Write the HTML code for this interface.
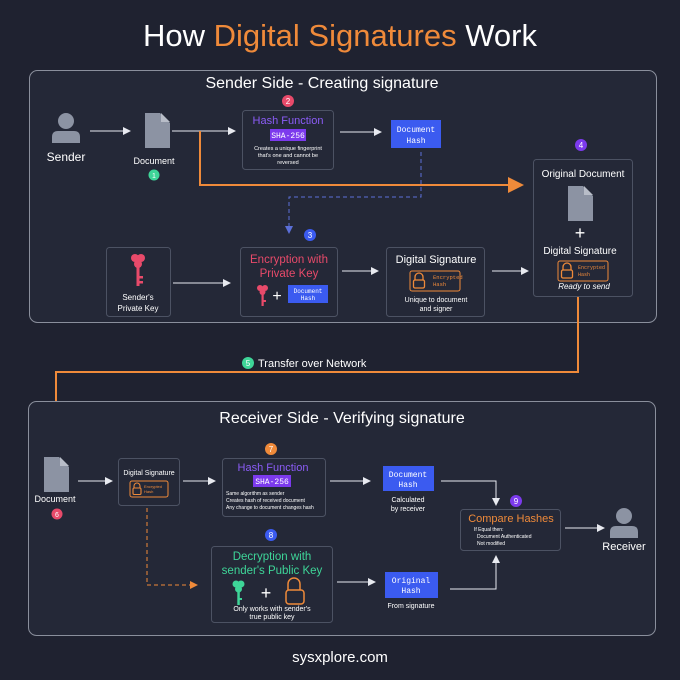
<!DOCTYPE html>
<html><head><meta charset="utf-8"><style>
html,body{margin:0;padding:0;background:#1f2230;}
svg{display:block;font-family:"Liberation Sans",sans-serif;}
.m{font-family:"Liberation Mono",monospace;}
</style></head><body>
<svg width="680" height="680" viewBox="0 0 680 680" xmlns="http://www.w3.org/2000/svg">
<defs>
<marker id="aw" markerWidth="8" markerHeight="8" refX="7" refY="4" orient="auto" markerUnits="userSpaceOnUse"><path d="M0,0 L8,4 L0,8z" fill="#e8eaf0"/></marker>
<marker id="ao" markerWidth="16" markerHeight="16" refX="14" refY="8" orient="auto" markerUnits="userSpaceOnUse"><path d="M0,0 L16,8 L0,16z" fill="#ef8a3a"/></marker>
<marker id="ao2" markerWidth="8" markerHeight="8" refX="7" refY="4" orient="auto" markerUnits="userSpaceOnUse"><path d="M0,0 L8,4 L0,8z" fill="#ef8a3a"/></marker>
<marker id="ab" markerWidth="8" markerHeight="8" refX="7" refY="4" orient="auto" markerUnits="userSpaceOnUse"><path d="M0,0 L8,4 L0,8z" fill="#5b6fd8"/></marker>
<g id="doc"><path d="M0,0 H15 L25,10 V35 H0Z" fill="#8c93a3"/><path d="M16,0 L25,9 H16Z" fill="#b8bdc8"/></g>
<g id="person"><circle cx="0" cy="8" r="8" fill="#8c93a3"/><path d="M-14,30 V24 Q-14,18 -8,18 H8 Q14,18 14,24 V30Z" fill="#8c93a3"/></g>
<g id="lock"><rect x="0" y="0" width="50" height="20" rx="2" fill="none" stroke="#ef8a3a" stroke-width="1"/><path d="M5,9 V6 a4,4 0 0 1 8,0 V9" fill="none" stroke="#ef8a3a" stroke-width="1.3"/><rect x="3.5" y="9" width="11" height="8" rx="1.5" fill="none" stroke="#ef8a3a" stroke-width="1.3"/></g>
<g id="lock2"><rect x="0" y="0" width="38" height="16" rx="2" fill="none" stroke="#ef8a3a" stroke-width="1"/><path d="M4,7 V5 a3,3 0 0 1 6,0 V7" fill="none" stroke="#ef8a3a" stroke-width="1.1"/><rect x="3" y="7" width="8" height="6.5" rx="1.2" fill="none" stroke="#ef8a3a" stroke-width="1.1"/></g>
</defs>
<rect width="680" height="680" fill="#1f2230"/>
<text x="340" y="46" text-anchor="middle" font-size="31" fill="#fff">How <tspan fill="#ef8a3a">Digital Signatures</tspan> Work</text>

<rect x="29.5" y="70.5" width="627" height="252" rx="8" fill="#242837" stroke="#8a8f9c"/>
<text x="322" y="88" text-anchor="middle" font-size="16" fill="#fff">Sender Side - Creating signature</text>
<use href="#person" x="66" y="113"/>
<text x="66" y="161" text-anchor="middle" font-size="12" fill="#fff">Sender</text>
<use href="#doc" x="145" y="113"/>
<text x="154" y="164" text-anchor="middle" font-size="9" fill="#fff">Document</text>
<circle cx="154" cy="175" r="5.5" fill="#3ed598"/><text x="154" y="178" text-anchor="middle" font-size="7" fill="#fff">1</text>
<line x1="90" y1="131" x2="130" y2="131" stroke="#e8eaf0" marker-end="url(#aw)"/>
<line x1="172" y1="131" x2="235" y2="131" stroke="#e8eaf0" marker-end="url(#aw)"/>
<circle cx="288" cy="101" r="6" fill="#e84a6a"/><text x="288" y="104" text-anchor="middle" font-size="8" fill="#fff">2</text>
<rect x="242.5" y="110.5" width="91" height="59" rx="3" fill="#242837" stroke="#4c5263"/>
<text x="288" y="124" text-anchor="middle" font-size="11" fill="#8b5cf6">Hash Function</text>
<rect x="270" y="129" width="36" height="12" fill="#7c3aed"/><text x="288" y="138" text-anchor="middle" font-size="8" class="m" fill="#fff">SHA-256</text>
<text x="288" y="150" text-anchor="middle" font-size="5.5" fill="#fff">Creates a unique fingerprint</text>
<text x="288" y="157" text-anchor="middle" font-size="5.5" fill="#fff">that's one and cannot be</text>
<text x="288" y="164" text-anchor="middle" font-size="5.5" fill="#fff">reversed</text>
<line x1="340" y1="132" x2="381" y2="132" stroke="#e8eaf0" marker-end="url(#aw)"/>
<rect x="391" y="120" width="50" height="28" fill="#3b5bf0"/>
<text x="416" y="132" text-anchor="middle" font-size="8" class="m" fill="#fff">Document</text>
<text x="416" y="143" text-anchor="middle" font-size="8" class="m" fill="#fff">Hash</text>
<path d="M421,152 V197 H289 V233" fill="none" stroke="#5b6fd8" stroke-dasharray="4,3" marker-end="url(#ab)"/>
<path d="M200,131 V185 H522" fill="none" stroke="#ef8a3a" stroke-width="2" marker-end="url(#ao)"/>
<circle cx="310" cy="235" r="6" fill="#3b5bf0"/><text x="310" y="238" text-anchor="middle" font-size="8" fill="#fff">3</text>
<circle cx="581" cy="145" r="6" fill="#7c3aed"/><text x="581" y="148" text-anchor="middle" font-size="8" fill="#fff">4</text>

<rect x="106.5" y="247.5" width="64" height="69" rx="3" fill="#242837" stroke="#4c5263"/>
<g fill="#e84a6a"><circle cx="135" cy="258" r="4"/><circle cx="141" cy="258" r="4"/><circle cx="138" cy="264" r="4"/><rect x="136.5" y="266" width="3" height="20"/><rect x="139" y="276" width="4" height="2.5"/><rect x="139" y="281" width="4" height="2.5"/></g>
<text x="138" y="300" text-anchor="middle" font-size="8" fill="#fff">Sender's</text>
<text x="138" y="311" text-anchor="middle" font-size="8" fill="#fff">Private Key</text>
<line x1="173" y1="283" x2="230" y2="283" stroke="#e8eaf0" marker-end="url(#aw)"/>
<rect x="240.5" y="247.5" width="97" height="69" rx="3" fill="#242837" stroke="#4c5263"/>
<text x="289" y="263" text-anchor="middle" font-size="11.5" fill="#e84a6a">Encryption with</text>
<text x="289" y="277" text-anchor="middle" font-size="11.5" fill="#e84a6a">Private Key</text>
<g fill="#e84a6a"><circle cx="260" cy="288" r="3"/><circle cx="265" cy="288" r="3"/><circle cx="262.5" cy="292" r="3"/><rect x="261.5" y="294" width="2.2" height="12"/><rect x="263" y="300" width="3" height="2"/></g>
<text x="277" y="301" text-anchor="middle" font-size="16" fill="#fff">+</text>
<rect x="288" y="285" width="40" height="18" fill="#3b5bf0"/>
<text x="308" y="293" text-anchor="middle" font-size="6" class="m" fill="#fff">Document</text>
<text x="308" y="300" text-anchor="middle" font-size="6" class="m" fill="#fff">Hash</text>
<line x1="342" y1="271" x2="378" y2="271" stroke="#e8eaf0" marker-end="url(#aw)"/>
<rect x="386.5" y="247.5" width="98" height="69" rx="3" fill="#242837" stroke="#4c5263"/>
<text x="436" y="263" text-anchor="middle" font-size="11" fill="#fff">Digital Signature</text>
<use href="#lock" x="410" y="271"/>
<text x="433" y="279" font-size="5.5" class="m" fill="#ef8a3a">Encrypted</text>
<text x="433" y="286" font-size="5.5" class="m" fill="#ef8a3a">Hash</text>
<text x="436" y="302" text-anchor="middle" font-size="7" fill="#fff">Unique to document</text>
<text x="436" y="311" text-anchor="middle" font-size="7" fill="#fff">and signer</text>
<line x1="492" y1="271" x2="528" y2="271" stroke="#e8eaf0" marker-end="url(#aw)"/>
<rect x="533.5" y="159.5" width="99" height="137" rx="3" fill="#242837" stroke="#4c5263"/>
<text x="583" y="177" text-anchor="middle" font-size="10" fill="#fff">Original Document</text>
<use href="#doc" x="568" y="186"/>
<text x="580" y="239" text-anchor="middle" font-size="18" fill="#fff">+</text>
<text x="580" y="254" text-anchor="middle" font-size="10" fill="#fff">Digital Signature</text>
<use href="#lock" x="558" y="261"/>
<text x="578" y="269" font-size="5" class="m" fill="#ef8a3a">Encrypted</text>
<text x="578" y="276" font-size="5" class="m" fill="#ef8a3a">Hash</text>
<text x="584" y="289" text-anchor="middle" font-size="8" font-style="italic" fill="#fff">Ready to send</text>

<path d="M578,297 V372 H56 V447" fill="none" stroke="#ef8a3a" stroke-width="2" marker-end="url(#ao)"/>
<circle cx="248" cy="363" r="6" fill="#3ed598"/><text x="248" y="366" text-anchor="middle" font-size="8" fill="#fff">5</text>
<text x="258" y="367" font-size="11" fill="#fff">Transfer over Network</text>

<rect x="28.5" y="401.5" width="627" height="234" rx="8" fill="#242837" stroke="#8a8f9c"/>
<text x="342" y="423" text-anchor="middle" font-size="16" fill="#fff">Receiver Side - Verifying signature</text>
<use href="#doc" x="44" y="457"/>
<text x="55" y="502" text-anchor="middle" font-size="9" fill="#fff">Document</text>
<circle cx="57" cy="514" r="5.5" fill="#e84a6a"/><text x="57" y="517" text-anchor="middle" font-size="7" fill="#fff">6</text>
<line x1="78" y1="481" x2="112" y2="481" stroke="#e8eaf0" marker-end="url(#aw)"/>
<rect x="118.5" y="458.5" width="61" height="47" rx="3" fill="#242837" stroke="#4c5263"/>
<text x="149" y="475" text-anchor="middle" font-size="7" fill="#fff">Digital Signature</text>
<use href="#lock2" x="130" y="481"/>
<text x="144" y="488" font-size="4" fill="#ef8a3a">Encrypted</text>
<text x="144" y="493" font-size="4" fill="#ef8a3a">Hash</text>
<line x1="183" y1="481" x2="215" y2="481" stroke="#e8eaf0" marker-end="url(#aw)"/>
<circle cx="271" cy="449" r="6" fill="#ef8a3a"/><text x="271" y="452" text-anchor="middle" font-size="8" fill="#fff">7</text>
<rect x="222.5" y="458.5" width="103" height="58" rx="3" fill="#242837" stroke="#4c5263"/>
<text x="273" y="471" text-anchor="middle" font-size="11" fill="#8b5cf6">Hash Function</text>
<rect x="253" y="475" width="38" height="12" fill="#7c3aed"/><text x="272" y="484" text-anchor="middle" font-size="8" class="m" fill="#fff">SHA-256</text>
<text x="226" y="495" font-size="5" fill="#fff">Same algorithm as sender</text>
<text x="226" y="502" font-size="5" fill="#fff">Creates hash of received document</text>
<text x="226" y="509" font-size="5" fill="#fff">Any change to document changes hash</text>
<line x1="330" y1="481" x2="370" y2="481" stroke="#e8eaf0" marker-end="url(#aw)"/>
<rect x="383" y="466" width="51" height="25" fill="#3b5bf0"/>
<text x="408" y="477" text-anchor="middle" font-size="8" class="m" fill="#fff">Document</text>
<text x="408" y="487" text-anchor="middle" font-size="8" class="m" fill="#fff">Hash</text>
<text x="408" y="502" text-anchor="middle" font-size="7" fill="#fff">Calculated</text>
<text x="408" y="511" text-anchor="middle" font-size="7" fill="#fff">by receiver</text>
<path d="M441,481 H496 V505" fill="none" stroke="#e8eaf0" marker-end="url(#aw)"/>
<circle cx="516" cy="501" r="6" fill="#7c3aed"/><text x="516" y="504" text-anchor="middle" font-size="8" fill="#fff">9</text>
<rect x="460.5" y="509.5" width="100" height="41" rx="3" fill="#242837" stroke="#4c5263"/>
<text x="511" y="522" text-anchor="middle" font-size="11" fill="#ef8a3a">Compare Hashes</text>
<text x="474" y="531" font-size="5" fill="#fff">If Equal then:</text>
<text x="477" y="538" font-size="5" fill="#fff">Document Authenticated</text>
<text x="477" y="545" font-size="5" fill="#fff">Not modified</text>
<line x1="565" y1="528" x2="604" y2="528" stroke="#e8eaf0" marker-end="url(#aw)"/>
<use href="#person" x="624" y="508"/>
<text x="624" y="550" text-anchor="middle" font-size="11" fill="#fff">Receiver</text>
<circle cx="271" cy="535" r="6" fill="#3b5bf0"/><text x="271" y="538" text-anchor="middle" font-size="8" fill="#fff">8</text>
<path d="M147,508 V585 H197" fill="none" stroke="#ef8a3a" stroke-dasharray="4,3" marker-end="url(#ao2)"/>
<rect x="211.5" y="546.5" width="121" height="76" rx="3" fill="#242837" stroke="#4c5263"/>
<text x="272" y="560" text-anchor="middle" font-size="11.5" fill="#3ed598">Decryption with</text>
<text x="272" y="574" text-anchor="middle" font-size="11.5" fill="#3ed598">sender's Public Key</text>
<g fill="#3ed598"><circle cx="236" cy="584" r="3.5"/><circle cx="241" cy="584" r="3.5"/><circle cx="238.5" cy="589" r="3.5"/><rect x="237.3" y="591" width="2.5" height="14"/><rect x="239" y="598" width="3" height="2"/></g>
<text x="266" y="599" text-anchor="middle" font-size="18" fill="#fff">+</text>
<path d="M288,590 V584 a6,6 0 0 1 12,0 V590" fill="none" stroke="#ef8a3a" stroke-width="1.5"/>
<rect x="286" y="590" width="18" height="14" rx="3" fill="none" stroke="#ef8a3a" stroke-width="1.5"/>
<text x="272" y="611" text-anchor="middle" font-size="7" fill="#fff">Only works with sender's</text>
<text x="272" y="619" text-anchor="middle" font-size="7" fill="#fff">true public key</text>
<line x1="337" y1="582" x2="375" y2="582" stroke="#e8eaf0" marker-end="url(#aw)"/>
<rect x="385" y="572" width="53" height="26" fill="#3b5bf0"/>
<text x="411" y="583" text-anchor="middle" font-size="8" class="m" fill="#fff">Original</text>
<text x="411" y="593" text-anchor="middle" font-size="8" class="m" fill="#fff">Hash</text>
<text x="411" y="608" text-anchor="middle" font-size="7" fill="#fff">From signature</text>
<path d="M450,589 H496 V556" fill="none" stroke="#e8eaf0" marker-end="url(#aw)"/>

<text x="340" y="662" text-anchor="middle" font-size="15" fill="#fff">sysxplore.com</text>
</svg>
</body></html>
